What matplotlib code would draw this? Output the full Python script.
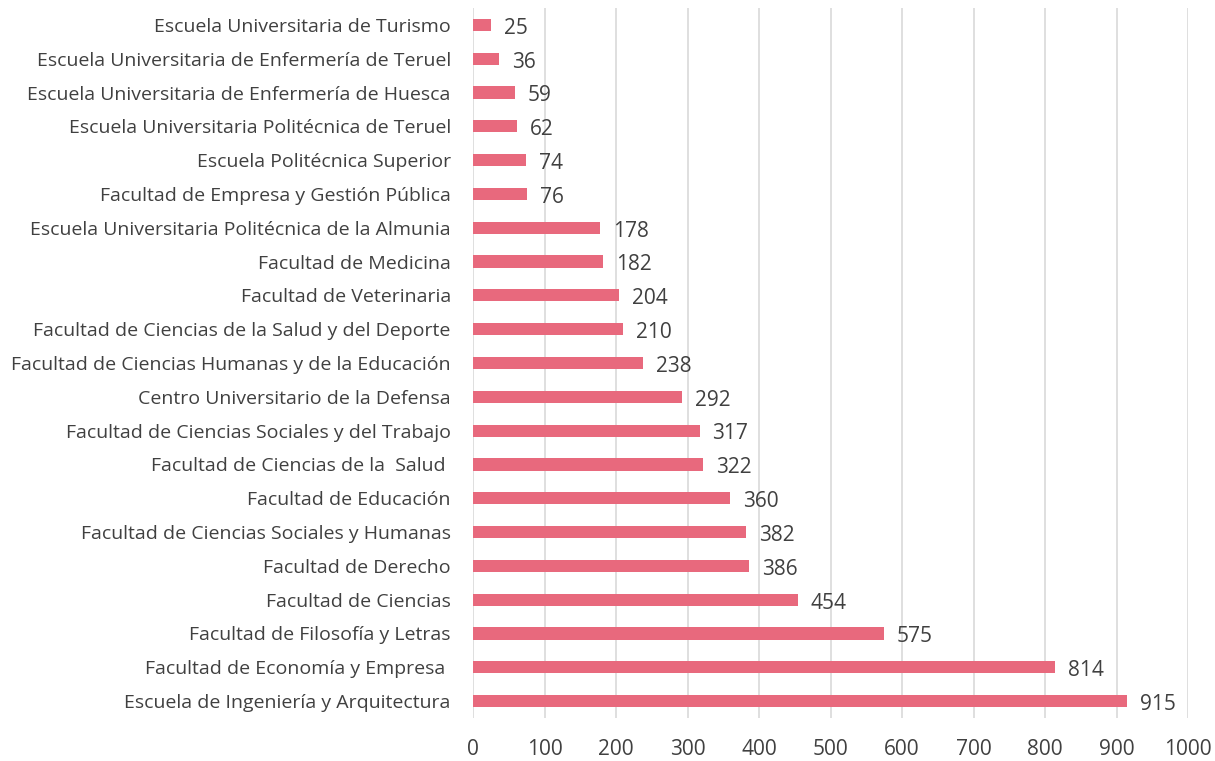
import matplotlib

matplotlib.use("Agg")
import matplotlib.pyplot as plt

# top to bottom as in the picture
centros = [
    "Escuela Universitaria de Turismo",
    "Escuela Universitaria de Enfermería de Teruel",
    "Escuela Universitaria de Enfermería de Huesca",
    "Escuela Universitaria Politécnica de Teruel",
    "Escuela Politécnica Superior",
    "Facultad de Empresa y Gestión Pública",
    "Escuela Universitaria Politécnica de la Almunia",
    "Facultad de Medicina",
    "Facultad de Veterinaria",
    "Facultad de Ciencias de la Salud y del Deporte",
    "Facultad de Ciencias Humanas y de la Educación",
    "Centro Universitario de la Defensa",
    "Facultad de Ciencias Sociales y del Trabajo",
    "Facultad de Ciencias de la  Salud ",
    "Facultad de Educación",
    "Facultad de Ciencias Sociales y Humanas",
    "Facultad de Derecho",
    "Facultad de Ciencias",
    "Facultad de Filosofía y Letras",
    "Facultad de Economía y Empresa ",
    "Escuela de Ingeniería y Arquitectura",
]
valores = [25, 36, 59, 62, 74, 76, 178, 182, 204, 210, 238, 292, 317, 322, 360, 382, 386, 454, 575, 814, 915]
x_ticks = [0, 100, 200, 300, 400, 500, 600, 700, 800, 900, 1000]

BAR = "#E8697D"
TEXT = "#404040"

plt.rcParams["font.family"] = ["Open Sans", "DejaVu Sans"]

fig = plt.figure(figsize=(12.15, 7.61), dpi=100)
ax = fig.add_axes([0.3893, 0.0565, 0.5885, 0.933])

pos = list(range(len(centros)))[::-1]
ax.barh(pos, valores, height=0.36, color=BAR, zorder=3)
for p, v in zip(pos, valores):
    ax.text(v + 18, p - 0.1, str(v), va="center", ha="left", fontsize=15, color=TEXT)

ax.set_xlim(0, 1000)
ax.set_ylim(-0.5, len(centros) - 0.5)
ax.set_xticks(x_ticks)
ax.set_yticks(pos)
ax.set_yticklabels(centros)
ax.tick_params(axis="x", labelsize=15, colors=TEXT, length=0, pad=15)
ax.tick_params(axis="y", labelsize=14, colors=TEXT, length=0, pad=16)
ax.grid(axis="x", color="#D9D9D9", linewidth=1.2, zorder=0)
for s in ax.spines.values():
    s.set_visible(False)

fig.savefig("out.png")
